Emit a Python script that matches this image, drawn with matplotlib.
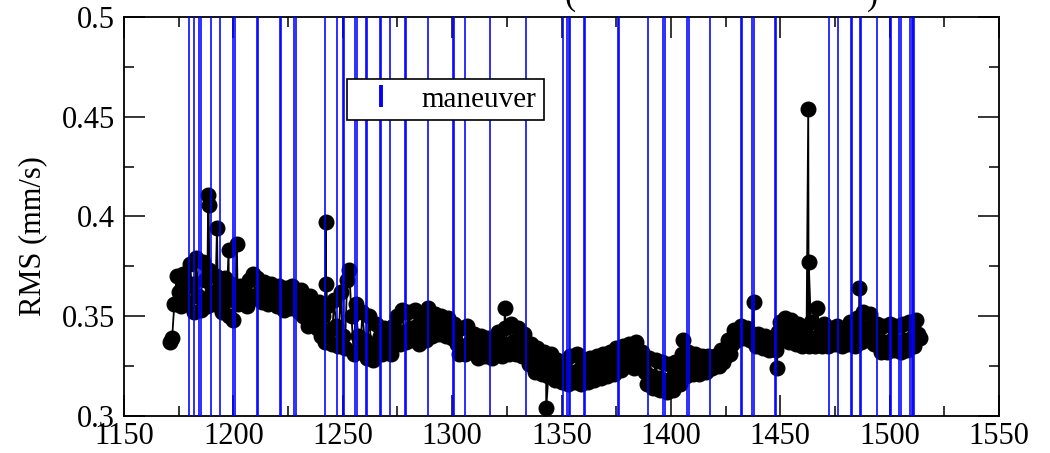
import numpy as np
import matplotlib
matplotlib.use("Agg")
import matplotlib.pyplot as plt
from matplotlib.lines import Line2D
from matplotlib.ticker import MultipleLocator, AutoMinorLocator, FuncFormatter

plt.rcParams['font.family'] = ['Liberation Serif', 'DejaVu Serif']

# Daily RMS of the residuals (mm/s), starting at day 1171
rms_day0 = 1171
rms = [
    0.337, 0.339, 0.356, 0.370, 0.362, 0.355, 0.371, 0.364, 0.357, 0.376,
    0.366, 0.352, 0.379, 0.360, 0.353, 0.377, 0.368, 0.355, 0.373, 0.362,
    0.356, 0.370, 0.359, 0.365, 0.352, 0.369, 0.358, 0.350, 0.366, 0.348,
    0.360, 0.356, 0.365, 0.357, 0.362, 0.355, 0.368, 0.360, 0.371, 0.359,
    0.369, 0.362, 0.357, 0.367, 0.360, 0.356, 0.366, 0.358, 0.363, 0.355,
    0.365, 0.357, 0.353, 0.364, 0.359, 0.354, 0.365, 0.356, 0.362, 0.352,
    0.363, 0.350, 0.357, 0.345, 0.360, 0.348, 0.354, 0.344, 0.357, 0.340,
    0.350, 0.337, 0.355, 0.343, 0.336, 0.358, 0.345, 0.335, 0.362, 0.340,
    0.334, 0.368, 0.373, 0.350, 0.331, 0.356, 0.340, 0.333, 0.352, 0.338,
    0.329, 0.350, 0.336, 0.328, 0.346, 0.333, 0.340, 0.331, 0.344, 0.335,
    0.342, 0.331, 0.345, 0.337, 0.350, 0.336, 0.353, 0.342, 0.337, 0.352,
    0.344, 0.338, 0.353, 0.345, 0.336, 0.351, 0.343, 0.338, 0.354, 0.345,
    0.340, 0.351, 0.343, 0.341, 0.350, 0.344, 0.340, 0.349, 0.342, 0.339,
    0.346, 0.336, 0.331, 0.344, 0.335, 0.331, 0.345, 0.337, 0.332, 0.341,
    0.334, 0.329, 0.340, 0.333, 0.330, 0.339, 0.334, 0.329, 0.338, 0.331,
    0.342, 0.334, 0.330, 0.344, 0.336, 0.331, 0.346, 0.337, 0.331, 0.344,
    0.335, 0.330, 0.341, 0.333, 0.326, 0.336, 0.327, 0.322, 0.334, 0.326,
    0.321, 0.332, 0.325, 0.320, 0.331, 0.323, 0.318, 0.328, 0.321, 0.317,
    0.327, 0.320, 0.316, 0.330, 0.322, 0.317, 0.331, 0.323, 0.316, 0.328,
    0.321, 0.317, 0.329, 0.322, 0.318, 0.330, 0.323, 0.319, 0.331, 0.324,
    0.320, 0.332, 0.325, 0.321, 0.334, 0.327, 0.323, 0.335, 0.328, 0.325,
    0.336, 0.329, 0.324, 0.337, 0.330, 0.325, 0.332, 0.322, 0.316, 0.329,
    0.320, 0.314, 0.328, 0.319, 0.313, 0.327, 0.318, 0.312, 0.326, 0.318,
    0.313, 0.327, 0.320, 0.316, 0.331, 0.324, 0.320, 0.332, 0.325, 0.321,
    0.331, 0.325, 0.321, 0.330, 0.324, 0.322, 0.330, 0.326, 0.324, 0.330,
    0.326, 0.325, 0.333, 0.327, 0.330, 0.338, 0.331, 0.336, 0.343, 0.338,
    0.341, 0.345, 0.339, 0.342, 0.344, 0.338, 0.341, 0.339, 0.335, 0.341,
    0.336, 0.334, 0.340, 0.336, 0.333, 0.339, 0.335, 0.333, 0.342, 0.347,
    0.338, 0.349, 0.341, 0.337, 0.348, 0.340, 0.336, 0.346, 0.339, 0.335,
    0.344, 0.338, 0.335, 0.347, 0.339, 0.335, 0.354, 0.341, 0.335, 0.346,
    0.339, 0.335, 0.344, 0.338, 0.336, 0.345, 0.339, 0.335, 0.343, 0.338,
    0.336, 0.347, 0.340, 0.335, 0.349, 0.342, 0.337, 0.352, 0.344, 0.338,
    0.351, 0.343, 0.336, 0.346, 0.338, 0.332, 0.345, 0.337, 0.332, 0.346,
    0.338, 0.333, 0.345, 0.337, 0.332, 0.346, 0.338, 0.333, 0.347, 0.339,
    0.335, 0.348, 0.341, 0.339,
]

# Isolated high / low arcs
spike_days = [1188.5, 1188.7, 1192.5, 1197.8, 1201.6, 1242.2, 1242.4,
              1324.0, 1343.0, 1405.6, 1437.8, 1448.5, 1462.8, 1463.0, 1486.1]
spike_rms = [0.411, 0.406, 0.394, 0.383, 0.386, 0.397, 0.366,
             0.354, 0.304, 0.338, 0.357, 0.324, 0.454, 0.377, 0.364]

# Maneuver epochs (days)
maneuver_days = [
    1179.9, 1182.2, 1184.4, 1185.2, 1189.9, 1194.0, 1200.0, 1200.6,
    1210.7, 1211.3, 1221.3, 1221.9, 1227.8, 1228.4, 1242.1, 1247.3,
    1250.0, 1250.6, 1255.7, 1256.3, 1260.5, 1261.1, 1267.0, 1267.6,
    1271.4, 1278.4, 1279.0, 1288.9, 1300.3, 1300.9, 1306.0, 1317.4,
    1333.9, 1350.9, 1352.6, 1353.3, 1354.0, 1360.3, 1360.9, 1375.7,
    1376.3, 1389.5, 1396.5, 1397.1, 1407.5, 1408.1, 1418.0, 1432.1,
    1432.7, 1437.2, 1437.8, 1447.6, 1448.2, 1472.4, 1476.4, 1482.2,
    1482.8, 1486.3, 1486.9, 1494.2, 1500.2, 1500.8, 1504.4, 1505.0,
    1509.4, 1510.0, 1510.6, 1511.2,
]

x_ticks = [1150, 1200, 1250, 1300, 1350, 1400, 1450, 1500, 1550]
y_ticks = [0.3, 0.35, 0.4, 0.45, 0.5]

# Merge the daily series with the isolated arcs in time order
days = rms_day0 + np.arange(len(rms), dtype=float)
all_days = np.concatenate([days, spike_days])
all_rms = np.concatenate([rms, spike_rms])
order = np.argsort(all_days, kind="stable")
all_days = all_days[order]
all_rms = all_rms[order]

fig = plt.figure(figsize=(10.5, 4.53), dpi=100)
ax = fig.add_axes([124 / 1050, 37 / 453, 875 / 1050, 399 / 453])

ax.plot(all_days, all_rms, color="black", lw=1.3, marker="o", ms=10.5,
        mfc="black", mec="black", zorder=2)
for d in maneuver_days:
    ax.axvline(d, color="blue", lw=1.15, zorder=3)

ax.set_xlim(x_ticks[0], x_ticks[-1])
ax.set_ylim(y_ticks[0], y_ticks[-1])
ax.set_xticks(x_ticks)
ax.set_yticks(y_ticks)
ax.xaxis.set_minor_locator(AutoMinorLocator(2))
ax.yaxis.set_minor_locator(AutoMinorLocator(2))
ax.yaxis.set_major_formatter(FuncFormatter(lambda v, p: "%g" % v))
ax.xaxis.set_major_formatter(FuncFormatter(lambda v, p: "%d" % v))

ax.tick_params(which="both", direction="in", top=True, right=True,
               width=1.1, color="black")
ax.tick_params(which="major", length=15)
ax.tick_params(which="minor", length=7.5)
ax.tick_params(axis="x", which="major", labelsize=22, pad=4)
ax.tick_params(axis="y", which="major", labelsize=22, pad=6.5)
for s in ax.spines.values():
    s.set_linewidth(1.3)
    s.set_color("black")

ax.set_ylabel("RMS (mm/s)", fontsize=22, va="center")
ax.yaxis.set_label_coords(-(124 - 33) / 875, 0.45)

handle = Line2D([], [], color="blue", marker="|", linestyle="none",
                markersize=16, markeredgewidth=2.8)
leg = ax.legend([handle], ["maneuver"], loc="upper left",
                bbox_to_anchor=(0.255, 0.845), borderaxespad=0,
                fontsize=21, borderpad=0.25, handlelength=1.8,
                handletextpad=0.5, fancybox=False, framealpha=1,
                edgecolor="black")
leg.get_frame().set_linewidth(1.2)

# Title line sits above the top edge of the figure
fig.text(570 / 1050, 1 - 5 / 453, "(", fontsize=24, ha="center", va="baseline")
fig.text(873 / 1050, 1 - 5 / 453, ")", fontsize=24, ha="center", va="baseline")

fig.savefig("out.png", dpi=100)
